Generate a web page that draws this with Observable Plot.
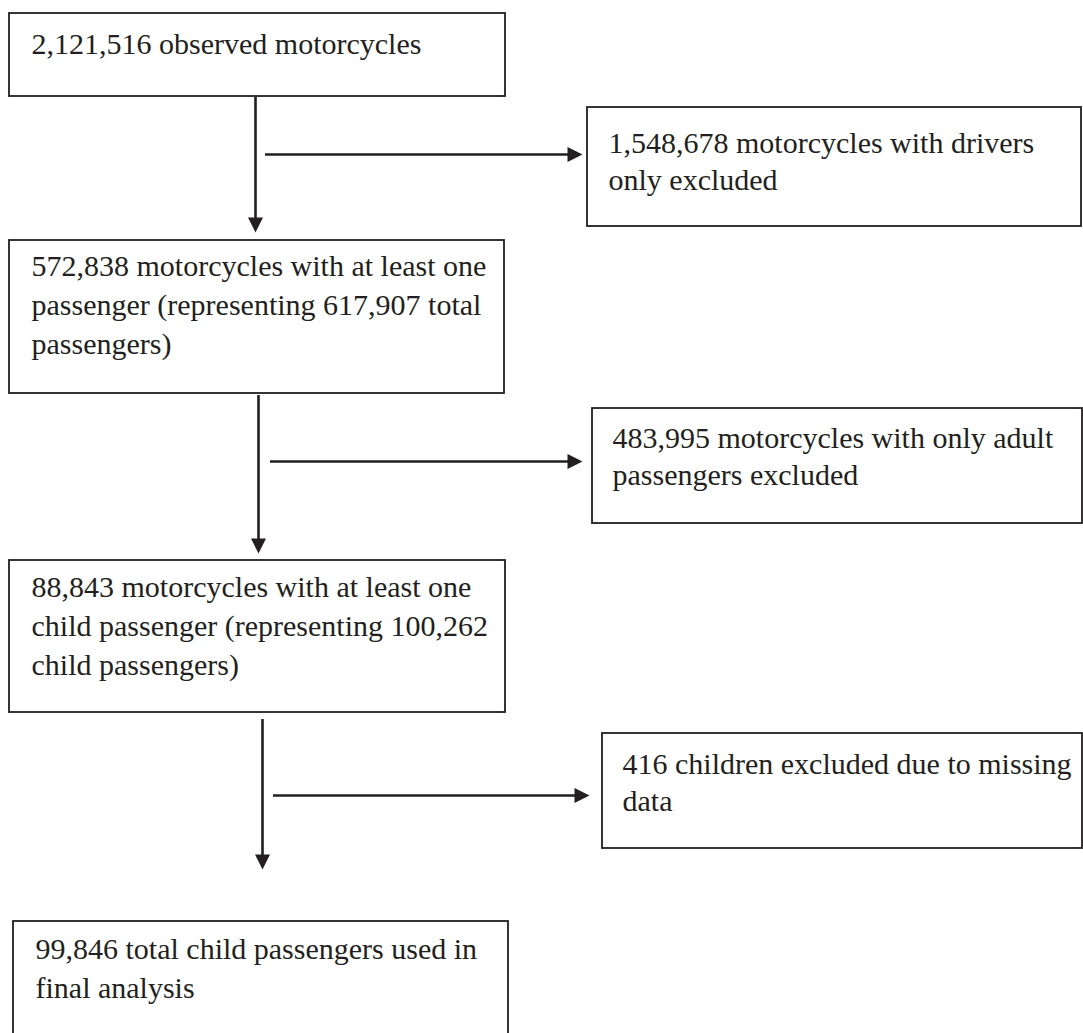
<!DOCTYPE html>
<html>
<head>
<meta charset="utf-8">
<script src="https://cdn.jsdelivr.net/npm/d3@7"></script>
<script src="https://cdn.jsdelivr.net/npm/@observablehq/plot@0.6"></script>
<style>
  html, body { margin: 0; padding: 0; background: #fff; }
  #chart svg { display: block; }
</style>
</head>
<body>
<div id="chart"></div>
<script>
// ---- Data: flowchart texts ----
const mainSteps = [
  "2,121,516 observed motorcycles",
  "572,838 motorcycles with at least one\npassenger (representing 617,907 total\npassengers)",
  "88,843 motorcycles with at least one\nchild passenger (representing 100,262\nchild passengers)",
  "99,846 total child passengers used in\nfinal analysis"
];
const exclusionSteps = [
  "1,548,678 motorcycles with drivers\nonly excluded",
  "483,995 motorcycles with only adult\npassengers excluded",
  "416 children excluded due to missing\ndata"
];

// ---- Layout (page coordinates) ----
const mainLayout = [
  {x1: 9,  y1: 13,  x2: 505, y2: 96,   tx: 31, ty: 53},
  {x1: 9,  y1: 240, x2: 504, y2: 393,  tx: 31, ty: 275},
  {x1: 9,  y1: 560, x2: 505, y2: 712,  tx: 31, ty: 596},
  {x1: 13, y1: 921, x2: 508, y2: 1045, tx: 35, ty: 958}
];
const sideLayout = [
  {x1: 587, y1: 107, x2: 1081, y2: 226, tx: 608, ty: 152},
  {x1: 592, y1: 408, x2: 1082, y2: 523, tx: 612, ty: 447},
  {x1: 602, y1: 733, x2: 1082, y2: 848, tx: 622, ty: 773}
];
const downLayout = [
  {x: 255, y1: 97,  y2: 232},
  {x: 258, y1: 395, y2: 553},
  {x: 262, y1: 719, y2: 869}
];
const rightLayout = [
  {y: 154, x1: 265, x2: 582},
  {y: 461, x1: 270, x2: 582},
  {y: 795, x1: 273, x2: 589}
];
const mainLineGap = 39;
const sideLineGap = 37;
const headLen = 15;
const ink = "#231f20";

// Build tables
const boxes = [...mainLayout, ...sideLayout];
const lines = [];
mainSteps.forEach((s, i) => s.split("\n").forEach((t, j) =>
  lines.push({text: t, x: mainLayout[i].tx, y: mainLayout[i].ty + j * mainLineGap})));
exclusionSteps.forEach((s, i) => s.split("\n").forEach((t, j) =>
  lines.push({text: t, x: sideLayout[i].tx, y: sideLayout[i].ty + j * sideLineGap})));

const downShafts = downLayout.map(d => ({x: d.x, y1: d.y1, y2: d.y2 - headLen + 1}));
const rightShafts = rightLayout.map(d => ({y: d.y, x1: d.x1, x2: d.x2 - headLen + 1}));
const heads = [
  ...downLayout.map(d => ({x: d.x, y: d.y2, rot: 0})),
  ...rightLayout.map(d => ({x: d.x2, y: d.y, rot: -90}))
];

// Arrowhead symbol: filled triangle with tip at origin, pointing down
const arrowHead = {
  draw(context) {
    context.moveTo(0, 0);
    context.lineTo(-7.5, -headLen);
    context.lineTo(7.5, -headLen);
    context.closePath();
  }
};

const chart = Plot.plot({
  width: 1083,
  height: 1033,
  margin: 0,
  x: {domain: [0, 1083], range: [0, 1083], axis: null},
  y: {domain: [0, 1033], range: [0, 1033], axis: null},
  style: {background: "#fff", fontFamily: "'Liberation Serif', 'Times New Roman', serif"},
  marks: [
    Plot.rect(boxes, {x1: "x1", y1: "y1", x2: "x2", y2: "y2", fill: "none", stroke: ink, strokeWidth: 1.8}),
    Plot.ruleX(downShafts, {x: "x", y1: "y1", y2: "y2", stroke: ink, strokeWidth: 2.6}),
    Plot.ruleY(rightShafts, {y: "y", x1: "x1", x2: "x2", stroke: ink, strokeWidth: 2.6}),
    Plot.dot(heads, {x: "x", y: "y", rotate: "rot", symbol: arrowHead, r: 5, fill: ink, stroke: "none"}),
    Plot.text(lines, {x: "x", y: "y", text: "text", textAnchor: "start", lineAnchor: "bottom",
      fontSize: 30, fill: ink, fontFamily: "'Liberation Serif', 'Times New Roman', serif"})
  ]
});
document.getElementById("chart").appendChild(chart);
</script>
</body>
</html>
